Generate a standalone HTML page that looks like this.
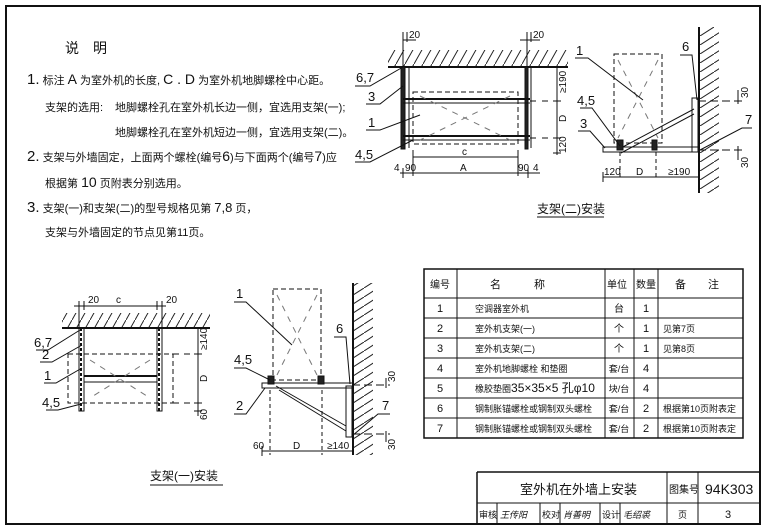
<!DOCTYPE html>
<html><head><meta charset="utf-8"><style>
html,body{margin:0;padding:0;background:#fff}
svg{display:block}
text{font-family:"Liberation Sans","Noto Sans CJK SC",sans-serif;fill:#111}
.c{font-family:"Liberation Sans","Noto Sans CJK SC",sans-serif}
</style></head><body>
<svg width="766" height="531" viewBox="0 0 766 531" xmlns="http://www.w3.org/2000/svg">
<defs>
<pattern id="hu" width="9" height="16" patternUnits="userSpaceOnUse"><line x1="0" y1="16" x2="9" y2="0" stroke="#222" stroke-width="1"/></pattern>
<pattern id="hr" width="14" height="9" patternUnits="userSpaceOnUse"><line x1="0" y1="9" x2="14" y2="0" stroke="#222" stroke-width="1"/></pattern>
</defs>
<rect x="0" y="0" width="766" height="531" fill="#fff"/>
<!-- frame -->
<rect x="6" y="6" width="754" height="518" fill="none" stroke="#111" stroke-width="2"/>

<!-- notes -->
<g font-size="11">
<text x="65" y="53" font-size="14">说　明</text>
<text x="27" y="84"><tspan font-size="15">1.</tspan> 标注 <tspan font-size="14">A</tspan> 为室外机的长度, <tspan font-size="14">C . D</tspan> 为室外机地脚螺栓中心距。</text>
<text x="45" y="111">支架的选用:</text>
<text x="115" y="111">地脚螺栓孔在室外机长边一侧，宜选用支架(一);</text>
<text x="115" y="136">地脚螺栓孔在室外机短边一侧，宜选用支架(二)。</text>
<text x="27" y="161"><tspan font-size="15">2.</tspan> 支架与外墙固定，上面两个螺栓(编号<tspan font-size="14">6</tspan>)与下面两个(编号<tspan font-size="14">7</tspan>)应</text>
<text x="45" y="187">根据第 <tspan font-size="14">10</tspan> 页附表分别选用。</text>
<text x="27" y="212"><tspan font-size="15">3.</tspan> 支架(一)和支架(二)的型号规格见第 <tspan font-size="13">7,8</tspan> 页，</text>
<text x="45" y="236">支架与外墙固定的节点见第11页。</text>
</g>

<!-- ===== top-left: 支架(二) front ===== -->
<g stroke="#111" fill="none">
<rect x="388" y="50" width="180" height="17" fill="url(#hu)" stroke="none"/>
<line x1="388" y1="67" x2="568" y2="67" stroke-width="2"/>
<rect x="401" y="67" width="4" height="82" fill="#222"/>
<line x1="409" y1="67" x2="409" y2="148"/>
<rect x="525" y="67" width="3" height="82" fill="#222"/>
<line x1="531" y1="67" x2="531" y2="148"/>
<line x1="403" y1="99" x2="530" y2="99" stroke-width="2"/>
<line x1="403" y1="103" x2="530" y2="103"/>
<line x1="403" y1="136" x2="530" y2="136" stroke-width="2"/>
<line x1="403" y1="140" x2="530" y2="140"/>
<rect x="413" y="92" width="105" height="52" stroke-dasharray="5,3"/>
<line x1="420" y1="96" x2="510" y2="140" stroke-dasharray="6,6" stroke="#777"/>
<line x1="510" y1="96" x2="420" y2="140" stroke-dasharray="6,6" stroke="#777"/>
<line x1="530" y1="101" x2="558" y2="101" stroke-dasharray="6,6"/>
<line x1="530" y1="138" x2="558" y2="138" stroke-dasharray="6,6"/>
<line x1="557" y1="67" x2="557" y2="155"/>
<line x1="553" y1="67" x2="561" y2="67"/><line x1="553" y1="101" x2="561" y2="101"/><line x1="553" y1="138" x2="561" y2="138"/><line x1="553" y1="153" x2="561" y2="153"/>
<line x1="413" y1="157" x2="518" y2="157"/>
<line x1="413" y1="150" x2="413" y2="176"/><line x1="518" y1="150" x2="518" y2="176"/>
<line x1="400" y1="173" x2="540" y2="173"/>
<line x1="403" y1="168" x2="403" y2="178"/><line x1="528" y1="168" x2="528" y2="178"/>
<line x1="403" y1="32" x2="403" y2="67"/><line x1="407" y1="32" x2="407" y2="42"/><line x1="403" y1="40" x2="416" y2="40"/>
<line x1="527" y1="32" x2="527" y2="67"/><line x1="531" y1="32" x2="531" y2="42"/><line x1="520" y1="40" x2="540" y2="40"/>
<!-- leaders -->
<polyline points="355,86 370,86 403,67"/>
<polyline points="366,104 380,104 403,86"/>
<polyline points="366,130 380,130 420,115"/>
<polyline points="355,162 370,162 413,140"/>
</g>
<g font-size="10">
<text x="409" y="38">20</text><text x="533" y="38">20</text>
<text x="356" y="82" font-size="13">6,7</text><text x="368" y="101" font-size="13">3</text>
<text x="368" y="127" font-size="13">1</text><text x="355" y="159" font-size="13">4,5</text>
<text x="462" y="155" font-size="10">c</text>
<text x="460" y="171">A</text>
<text x="394" y="171">4</text><text x="405" y="171">90</text><text x="518" y="171">90</text><text x="533" y="171">4</text>
<text transform="translate(566,93) rotate(-90)">≥190</text>
<text transform="translate(566,122) rotate(-90)">D</text>
<text transform="translate(566,153) rotate(-90)">120</text>
</g>

<!-- ===== top-right: 支架(二) side ===== -->
<g stroke="#111" fill="none">
<rect x="699" y="27" width="20" height="166" fill="url(#hr)" stroke="none"/>
<line x1="699" y1="27" x2="699" y2="193" stroke-width="2"/>
<rect x="614" y="54" width="48" height="89" stroke-dasharray="5,3"/>
<line x1="618" y1="60" x2="658" y2="138" stroke-dasharray="6,6" stroke="#777"/>
<line x1="658" y1="60" x2="618" y2="138" stroke-dasharray="6,6" stroke="#777"/>
<rect x="603" y="147" width="96" height="5"/>
<rect x="692" y="98" width="6" height="54"/>
<line x1="619" y1="149" x2="694" y2="109"/>
<line x1="621" y1="153" x2="694" y2="114"/>
<rect x="617" y="140" width="6" height="10" fill="#222"/>
<rect x="652" y="140" width="5" height="10" fill="#222"/>
<line x1="620" y1="152" x2="620" y2="180" stroke-dasharray="4,3"/>
<line x1="656" y1="152" x2="656" y2="180" stroke-dasharray="4,3"/>
<line x1="603" y1="177" x2="699" y2="177"/>
<line x1="603" y1="172" x2="603" y2="182"/>
<line x1="698" y1="101" x2="745" y2="101" stroke-dasharray="8,4"/>
<line x1="698" y1="150" x2="745" y2="150" stroke-dasharray="8,4"/>
<line x1="738" y1="90" x2="738" y2="104"/><line x1="738" y1="146" x2="738" y2="160"/>
<polyline points="575,58 588,58 643,100"/>
<polyline points="680,55 692,55 697,100"/>
<polyline points="580,108 592,108 620,146"/>
<polyline points="578,131 590,131 605,148"/>
<polyline points="752,128 742,128 700,150"/>
</g>
<g font-size="10">
<text x="576" y="55" font-size="13">1</text>
<text x="682" y="51" font-size="13">6</text>
<text x="577" y="105" font-size="13">4,5</text>
<text x="580" y="128" font-size="13">3</text>
<text x="745" y="124" font-size="13">7</text>
<text x="604" y="175">120</text><text x="636" y="175">D</text><text x="668" y="175">≥190</text>
<text transform="translate(748,98) rotate(-90)">30</text>
<text transform="translate(748,168) rotate(-90)">30</text>
<text x="537" y="213" font-size="12">支架(二)安装</text>
</g>
<line x1="537" y1="217" x2="604" y2="217" stroke="#111"/>

<!-- ===== bottom-left: 支架(一) front ===== -->
<g stroke="#111" fill="none">
<rect x="62" y="313" width="148" height="15" fill="url(#hu)" stroke="none"/>
<line x1="62" y1="328" x2="210" y2="328" stroke-width="2"/>
<rect x="79" y="328" width="5" height="83"/>
<rect x="157" y="328" width="5" height="83"/>
<line x1="81" y1="328" x2="81" y2="411" stroke-dasharray="3,2" stroke-width="2"/>
<line x1="159" y1="328" x2="159" y2="411" stroke-dasharray="3,2" stroke-width="2"/>
<rect x="68" y="354" width="105" height="49" stroke-dasharray="5,3"/>
<line x1="84" y1="376" x2="157" y2="376" stroke-width="2"/>
<line x1="84" y1="382" x2="157" y2="382"/>
<line x1="90" y1="360" x2="150" y2="398" stroke-dasharray="6,6" stroke="#777"/>
<line x1="150" y1="360" x2="90" y2="398" stroke-dasharray="6,6" stroke="#777"/>
<line x1="173" y1="354" x2="200" y2="354" stroke-dasharray="6,5"/>
<line x1="173" y1="403" x2="200" y2="403" stroke-dasharray="6,5"/>
<line x1="198" y1="328" x2="198" y2="416"/>
<line x1="194" y1="354" x2="202" y2="354"/><line x1="194" y1="403" x2="202" y2="403"/><line x1="194" y1="411" x2="202" y2="411"/>
<line x1="74" y1="306" x2="166" y2="306"/>
<line x1="79" y1="301" x2="79" y2="328"/><line x1="84" y1="301" x2="84" y2="310"/>
<line x1="157" y1="301" x2="157" y2="310"/><line x1="162" y1="301" x2="162" y2="328"/>
<polyline points="36,350 48,350 80,330"/>
<polyline points="40,362 52,362 82,345"/>
<polyline points="44,383 56,383 82,368"/>
<polyline points="46,410 58,410 81,404"/>
</g>
<g font-size="10">
<text x="88" y="303">20</text><text x="116" y="303">c</text><text x="166" y="303">20</text>
<text x="34" y="347" font-size="13">6,7</text>
<text x="42" y="359" font-size="13">2</text>
<text x="44" y="380" font-size="13">1</text>
<text x="42" y="407" font-size="13">4,5</text>
<text transform="translate(207,350) rotate(-90)">≥140</text>
<text transform="translate(207,382) rotate(-90)">D</text>
<text transform="translate(207,420) rotate(-90)">60</text>
<text x="150" y="480" font-size="12">支架(一)安装</text>
</g>
<line x1="150" y1="485" x2="223" y2="485" stroke="#111"/>

<!-- ===== bottom-right: 支架(一) side ===== -->
<g stroke="#111" fill="none">
<rect x="353" y="283" width="20" height="172" fill="url(#hr)" stroke="none"/>
<line x1="353" y1="283" x2="353" y2="455" stroke-width="2"/>
<rect x="273" y="289" width="48" height="91" stroke-dasharray="5,3"/>
<line x1="277" y1="295" x2="317" y2="375" stroke-dasharray="6,6" stroke="#777"/>
<line x1="317" y1="295" x2="277" y2="375" stroke-dasharray="6,6" stroke="#777"/>
<rect x="262" y="383" width="91" height="5"/>
<rect x="346" y="386" width="6" height="51"/>
<line x1="276" y1="386" x2="346" y2="426"/>
<line x1="279" y1="390" x2="346" y2="431"/>
<rect x="268" y="376" width="6" height="8" fill="#222"/>
<rect x="318" y="376" width="6" height="8" fill="#222"/>
<line x1="270" y1="390" x2="270" y2="455" stroke-dasharray="4,3"/>
<line x1="322" y1="390" x2="322" y2="455" stroke-dasharray="4,3"/>
<line x1="262" y1="451" x2="353" y2="451"/>
<line x1="262" y1="446" x2="262" y2="456"/>
<line x1="352" y1="385" x2="390" y2="385" stroke-dasharray="8,4"/>
<line x1="352" y1="434" x2="390" y2="434" stroke-dasharray="8,4"/>
<line x1="386" y1="378" x2="386" y2="388"/><line x1="386" y1="431" x2="386" y2="442"/>
<polyline points="234,302 246,302 292,345"/>
<polyline points="234,368 246,368 270,380"/>
<polyline points="234,414 246,414 265,388"/>
<polyline points="334,337 346,337 350,384"/>
<polyline points="390,414 378,414 352,436"/>
</g>
<g font-size="10">
<text x="236" y="298" font-size="13">1</text>
<text x="234" y="364" font-size="13">4,5</text>
<text x="236" y="410" font-size="13">2</text>
<text x="336" y="333" font-size="13">6</text>
<text x="382" y="410" font-size="13">7</text>
<text x="253" y="449">60</text><text x="293" y="449">D</text><text x="327" y="449">≥140</text>
<text transform="translate(395,382) rotate(-90)">30</text>
<text transform="translate(395,450) rotate(-90)">30</text>
</g>

<!-- ===== table ===== -->
<g stroke="#111" fill="none">
<rect x="424" y="269" width="319" height="169" stroke-width="1.5"/>
<line x1="457" y1="269" x2="457" y2="438"/>
<line x1="605" y1="269" x2="605" y2="438"/>
<line x1="634" y1="269" x2="634" y2="438"/>
<line x1="658" y1="269" x2="658" y2="438"/>
<line x1="424" y1="298" x2="743" y2="298"/>
<line x1="424" y1="318" x2="743" y2="318"/>
<line x1="424" y1="338" x2="743" y2="338"/>
<line x1="424" y1="358" x2="743" y2="358"/>
<line x1="424" y1="378" x2="743" y2="378"/>
<line x1="424" y1="398" x2="743" y2="398"/>
<line x1="424" y1="418" x2="743" y2="418"/>
</g>
<g font-size="10">
<text x="430" y="288">编号</text>
<text x="490" y="288" font-size="11">名　　　称</text>
<text x="607" y="288">单位</text><text x="636" y="288">数量</text>
<text x="675" y="288" font-size="11">备　　注</text>
<g text-anchor="middle" font-size="11">
<text x="440" y="312">1</text><text x="440" y="332">2</text><text x="440" y="352">3</text><text x="440" y="372">4</text><text x="440" y="392">5</text><text x="440" y="412">6</text><text x="440" y="432">7</text>
<text x="619" y="312" font-size="10">台</text><text x="619" y="332" font-size="10">个</text><text x="619" y="352" font-size="10">个</text>
<text x="619" y="372" font-size="9">套/台</text><text x="619" y="392" font-size="9">块/台</text><text x="619" y="412" font-size="9">套/台</text><text x="619" y="432" font-size="9">套/台</text>
<text x="646" y="312">1</text><text x="646" y="332">1</text><text x="646" y="352">1</text><text x="646" y="372">4</text><text x="646" y="392">4</text><text x="646" y="412">2</text><text x="646" y="432">2</text>
</g>
<g font-size="9">
<text x="475" y="312">空调器室外机</text>
<text x="475" y="332">室外机支架(一)</text>
<text x="475" y="352">室外机支架(二)</text>
<text x="475" y="372">室外机地脚螺栓 和垫圈</text>
<text x="475" y="392">橡胶垫圈<tspan font-size="12">35×35×5 孔φ10</tspan></text>
<text x="475" y="412">钢制胀锚螺栓或钢制双头螺栓</text>
<text x="475" y="432">钢制胀锚螺栓或钢制双头螺栓</text>
<text x="663" y="332">见第7页</text>
<text x="663" y="352">见第8页</text>
<text x="663" y="412">根据第10页附表定</text>
<text x="663" y="432">根据第10页附表定</text>
</g>
</g>

<!-- ===== title block ===== -->
<g stroke="#111" fill="none">
<line x1="477" y1="472" x2="760" y2="472" stroke-width="1.5"/>
<line x1="477" y1="472" x2="477" y2="524" stroke-width="1.5"/>
<line x1="477" y1="503" x2="760" y2="503"/>
<line x1="667" y1="472" x2="667" y2="524"/>
<line x1="698" y1="472" x2="698" y2="524"/>
<line x1="497" y1="503" x2="497" y2="524"/>
<line x1="540" y1="503" x2="540" y2="524"/>
<line x1="560" y1="503" x2="560" y2="524"/>
<line x1="600" y1="503" x2="600" y2="524"/>
<line x1="620" y1="503" x2="620" y2="524"/>
</g>
<g>
<text x="520" y="494" font-size="13">室外机在外墙上安装</text>
<text x="669" y="493" font-size="10">图集号</text>
<text x="705" y="494" font-size="14">94K303</text>
<text x="479" y="518" font-size="9">审核</text>
<text x="500" y="518" font-size="9" font-style="italic">王传阳</text>
<text x="542" y="518" font-size="9">校对</text>
<text x="563" y="518" font-size="9" font-style="italic">肖善明</text>
<text x="602" y="518" font-size="9">设计</text>
<text x="623" y="518" font-size="9" font-style="italic">毛绍裘</text>
<text x="678" y="518" font-size="9">页</text>
<text x="725" y="518" font-size="11">3</text>
</g>
</svg>
</body></html>
